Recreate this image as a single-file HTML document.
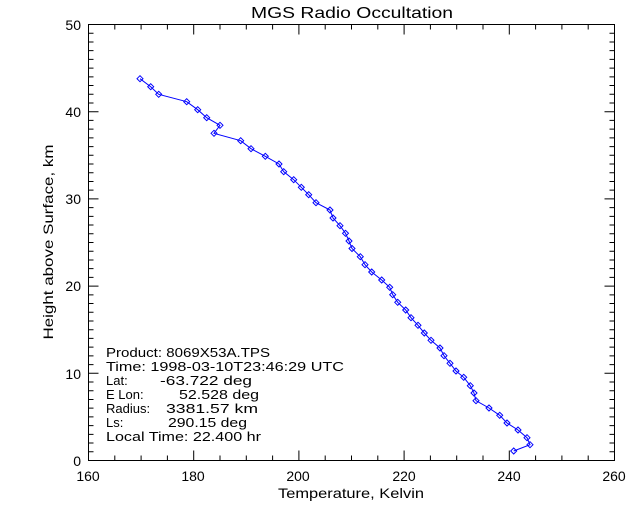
<!DOCTYPE html>
<html><head><style>html,body{margin:0;padding:0;background:#fff}svg{display:block}</style></head>
<body>
<svg width="640" height="512" xmlns="http://www.w3.org/2000/svg" font-family="Liberation Sans, sans-serif" font-size="14">
<defs>
<marker id="d" markerUnits="userSpaceOnUse" markerWidth="8" markerHeight="8" refX="4" refY="4" viewBox="0 0 8 8" overflow="visible">
<polygon points="1,4 4,1 7,4 4,7" fill="none" stroke="#0000ff" stroke-width="1"/>
</marker>
</defs>
<rect width="640" height="512" fill="#fff"/>
<text x="352" y="18" text-anchor="middle" font-size="16" textLength="202" lengthAdjust="spacingAndGlyphs">MGS Radio Occultation</text>
<rect x="88.5" y="24.5" width="526" height="436" fill="none" stroke="#000" stroke-width="1"/>
<path fill="none" stroke="#000" stroke-width="1" d="
M88.5 460.5v-10M114.8 460.5v-5M141.1 460.5v-5M167.4 460.5v-5M193.7 460.5v-10M220 460.5v-5M246.3 460.5v-5M272.6 460.5v-5M298.9 460.5v-10M325.2 460.5v-5M351.5 460.5v-5M377.8 460.5v-5M404.1 460.5v-10M430.4 460.5v-5M456.7 460.5v-5M483 460.5v-5M509.3 460.5v-10M535.6 460.5v-5M561.9 460.5v-5M588.2 460.5v-5M614.5 460.5v-10
M88.5 24.5v10M114.8 24.5v5M141.1 24.5v5M167.4 24.5v5M193.7 24.5v10M220 24.5v5M246.3 24.5v5M272.6 24.5v5M298.9 24.5v10M325.2 24.5v5M351.5 24.5v5M377.8 24.5v5M404.1 24.5v10M430.4 24.5v5M456.7 24.5v5M483 24.5v5M509.3 24.5v10M535.6 24.5v5M561.9 24.5v5M588.2 24.5v5M614.5 24.5v10
M88.5 451.78h5M88.5 443.06h5M88.5 434.34h5M88.5 425.62h5M88.5 416.9h5M88.5 408.18h5M88.5 399.46h5M88.5 390.74h5M88.5 382.02h5M88.5 373.3h10
M88.5 364.58h5M88.5 355.86h5M88.5 347.14h5M88.5 338.42h5M88.5 329.7h5M88.5 320.98h5M88.5 312.26h5M88.5 303.54h5M88.5 294.82h5M88.5 286.1h10
M88.5 277.38h5M88.5 268.66h5M88.5 259.94h5M88.5 251.22h5M88.5 242.5h5M88.5 233.78h5M88.5 225.06h5M88.5 216.34h5M88.5 207.62h5M88.5 198.9h10
M88.5 190.18h5M88.5 181.46h5M88.5 172.74h5M88.5 164.02h5M88.5 155.3h5M88.5 146.58h5M88.5 137.86h5M88.5 129.14h5M88.5 120.42h5M88.5 111.7h10
M88.5 102.98h5M88.5 94.26h5M88.5 85.54h5M88.5 76.82h5M88.5 68.1h5M88.5 59.38h5M88.5 50.66h5M88.5 41.94h5M88.5 33.22h5
M614.5 451.78h-5M614.5 443.06h-5M614.5 434.34h-5M614.5 425.62h-5M614.5 416.9h-5M614.5 408.18h-5M614.5 399.46h-5M614.5 390.74h-5M614.5 382.02h-5M614.5 373.3h-10
M614.5 364.58h-5M614.5 355.86h-5M614.5 347.14h-5M614.5 338.42h-5M614.5 329.7h-5M614.5 320.98h-5M614.5 312.26h-5M614.5 303.54h-5M614.5 294.82h-5M614.5 286.1h-10
M614.5 277.38h-5M614.5 268.66h-5M614.5 259.94h-5M614.5 251.22h-5M614.5 242.5h-5M614.5 233.78h-5M614.5 225.06h-5M614.5 216.34h-5M614.5 207.62h-5M614.5 198.9h-10
M614.5 190.18h-5M614.5 181.46h-5M614.5 172.74h-5M614.5 164.02h-5M614.5 155.3h-5M614.5 146.58h-5M614.5 137.86h-5M614.5 129.14h-5M614.5 120.42h-5M614.5 111.7h-10
M614.5 102.98h-5M614.5 94.26h-5M614.5 85.54h-5M614.5 76.82h-5M614.5 68.1h-5M614.5 59.38h-5M614.5 50.66h-5M614.5 41.94h-5M614.5 33.22h-5"/>
<g font-size="14" text-anchor="middle">
<text x="88" y="481">160</text><text x="193" y="481">180</text><text x="298" y="481">200</text><text x="404" y="481">220</text><text x="509" y="481">240</text><text x="614" y="481">260</text>
</g>
<g font-size="14" text-anchor="end">
<text x="81" y="466">0</text><text x="81" y="379">10</text><text x="81" y="291">20</text><text x="81" y="204">30</text><text x="81" y="117">40</text><text x="81" y="30">50</text>
</g>
<text x="351" y="498" text-anchor="middle" font-size="14" textLength="146" lengthAdjust="spacingAndGlyphs">Temperature, Kelvin</text>
<text transform="translate(53,242) rotate(-90)" text-anchor="middle" font-size="14" textLength="195" lengthAdjust="spacingAndGlyphs">Height above Surface, km</text>
<g font-size="13" style="white-space:pre" xml:space="preserve">
<text x="106" y="357" textLength="164" lengthAdjust="spacingAndGlyphs">Product: 8069X53A.TPS</text>
<text x="106" y="371" textLength="238" lengthAdjust="spacingAndGlyphs">Time: 1998-03-10T23:46:29 UTC</text>
<text x="106" y="385">Lat:</text><text x="160" y="385" textLength="92" lengthAdjust="spacingAndGlyphs">-63.722 deg</text>
<text x="106" y="399">E Lon:</text><text x="179" y="399" textLength="80" lengthAdjust="spacingAndGlyphs">52.528 deg</text>
<text x="106" y="413">Radius:</text><text x="166" y="413" textLength="92" lengthAdjust="spacingAndGlyphs">3381.57 km</text>
<text x="106" y="427">Ls:</text><text x="168" y="427" textLength="79" lengthAdjust="spacingAndGlyphs">290.15 deg</text>
<text x="106" y="441" textLength="155" lengthAdjust="spacingAndGlyphs">Local Time: 22.400 hr</text>
</g>
<polyline fill="none" stroke="#0000ff" stroke-width="1" marker-start="url(#d)" marker-mid="url(#d)" marker-end="url(#d)" points="140,78.7 150.7,86.7 158.7,94.3 186.7,101.7 197.7,109.7 206.7,117.7 220,125.3 214,133.3 240.7,140.7 251,148.7 265.3,156.3 279,164 283.7,171.7 293.7,179.7 301.3,187.3 308.7,194.7 316,202.7 330,210 333,218 340,225.7 345.5,233.3 349,241 352,248.5 360.3,256.7 365,264.7 371.7,272 381.7,280 389.7,287.3 392.7,294.7 397.7,302.3 405.7,310 411,317.7 418,325.3 424.3,333 431,340.3 440,348 444,355.7 450,363.3 456,371 463.7,377.3 470.3,385.7 474,393 476,400.7 489,408 499.7,415.3 507,423 518,430 527,437.7 530,444.7 513.7,451"/>
</svg>
</body></html>
